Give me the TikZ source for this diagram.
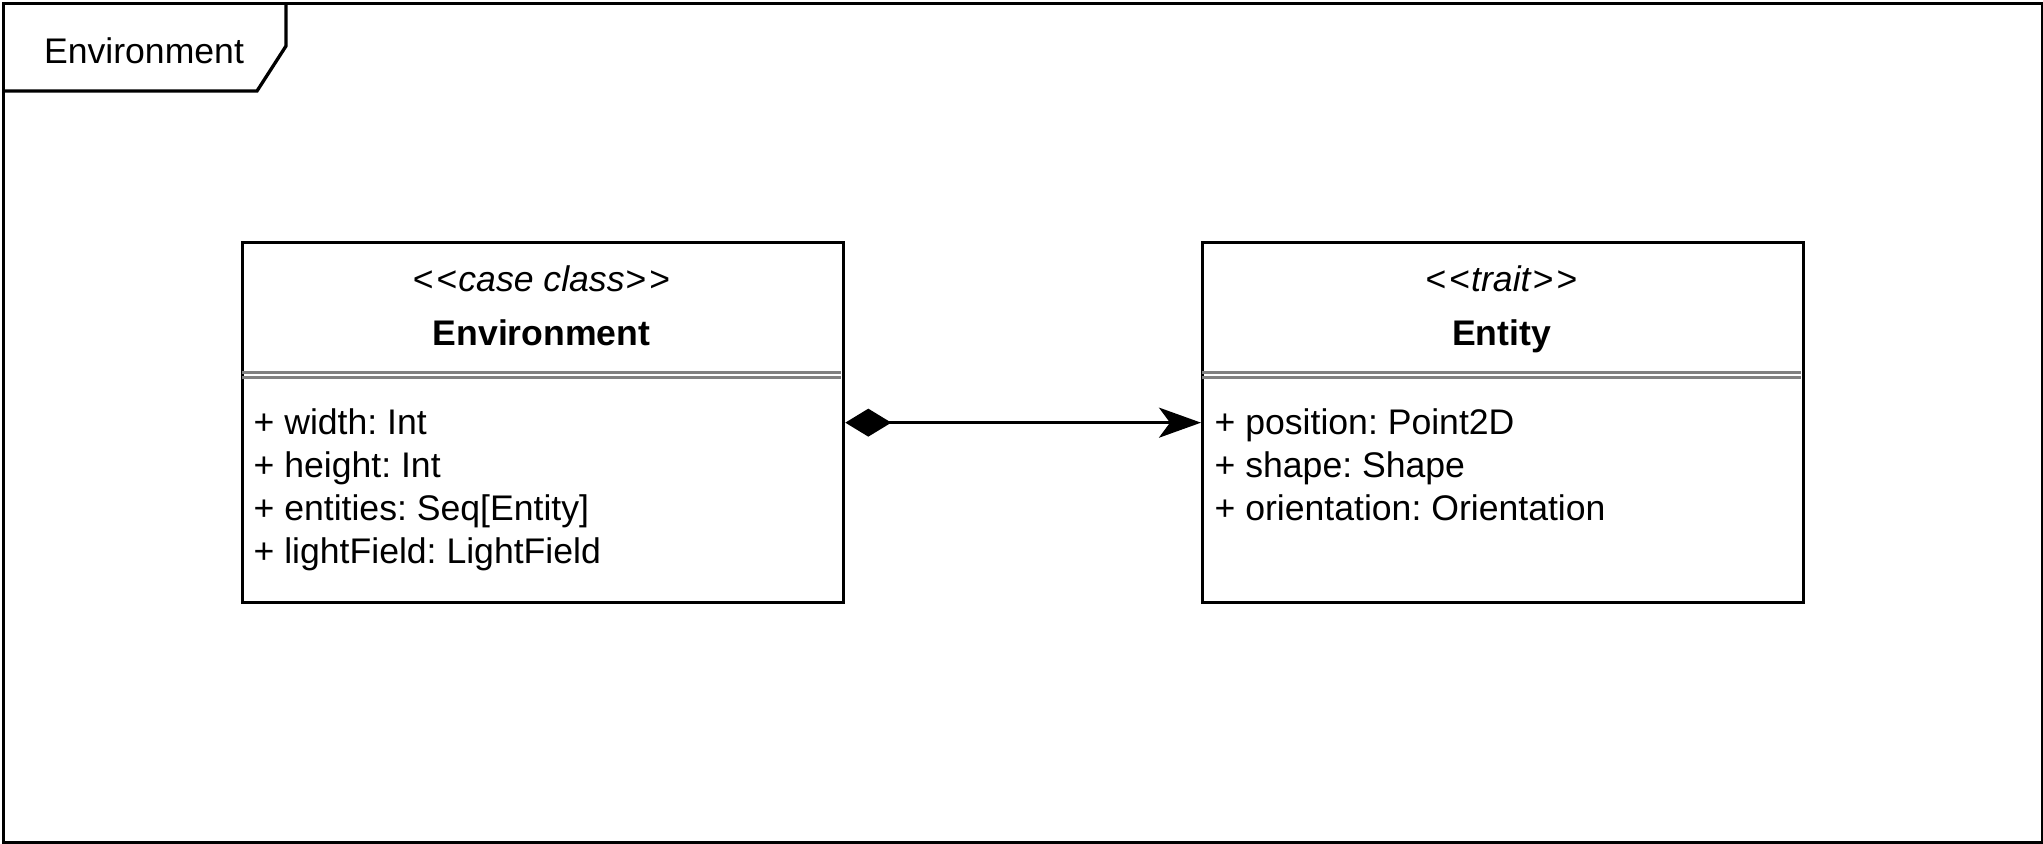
\documentclass[tikz,border=0pt]{standalone}
\usepackage{fontspec}
\setmainfont{Liberation Sans}
\usetikzlibrary{arrows.meta}
\frenchspacing
\newcommand{\stlq}{\textless\kern1.5pt\textless\kern0.5pt}
\newcommand{\strq}{\kern0.5pt\textgreater\kern1.5pt\textgreater}
\begin{document}
\begin{tikzpicture}[x=0.5pt,y=-0.5pt, line width=1.65pt,
  txt/.style={font=\fontsize{17.8}{21.5}\selectfont, inner sep=0pt, anchor=base},
  attr/.style={txt, anchor=base west},
  classbox/.style={draw, fill=white, minimum width=300.5pt, minimum height=180pt, inner sep=0pt, anchor=north west},
  sepline/.style={draw=black!50, line width=1.2pt},
  framebox/.style={draw, minimum width=1019.5pt, minimum height=419.5pt, inner sep=0pt, anchor=north west}]
\useasboundingbox (0,0) rectangle (2043,843);
\fill[white] (0,0) rectangle (2043,843);
\node[framebox] (frame) at (2,2) {};
\draw (frame.north west |- 0,91) -- (257,91) -- (286,46) -- (286,2);
\node[txt] (tabtxt) at (144,63) {Environment};
% Environment class
\node[classbox] (env) at (241,241) {};
\node[txt] (envst) at (541.5,291) {\stlq\textit{case class}\strq};
\node[txt] (envti) at (541.5,345) {\bfseries Environment};
\draw[sepline] (242,372.5) -- (841,372.5) (242,377.5) -- (841,377.5);
\node[attr] (ea1) at (252,434) {+ width: Int};
\node[attr] (ea2) at (252,477) {+ height: Int};
\node[attr] (ea3) at (252,520) {+ entities: Seq[Entity]};
\node[attr] (ea4) at (252,563) {+ lightField: LightField};
% Entity trait
\node[classbox] (ent) at (1201,241) {};
\node[txt] (entst) at (1501.5,291) {\stlq\textit{trait}\strq};
\node[txt] (entti) at (1501.5,345) {\bfseries Entity};
\draw[sepline] (1202,372.5) -- (1801,372.5) (1202,377.5) -- (1801,377.5);
\node[attr] (ta1) at (1213,434) {+ position: Point2D};
\node[attr] (ta2) at (1213,477) {+ shape: Shape};
\node[attr] (ta3) at (1213,520) {+ orientation: Orientation};
% composition
\draw[{Diamond[length=23pt,width=14pt]}-{Stealth[length=21pt,width=15pt,inset=5.5pt]}] (env.east) -- (ent.west);
\end{tikzpicture}
\end{document}
